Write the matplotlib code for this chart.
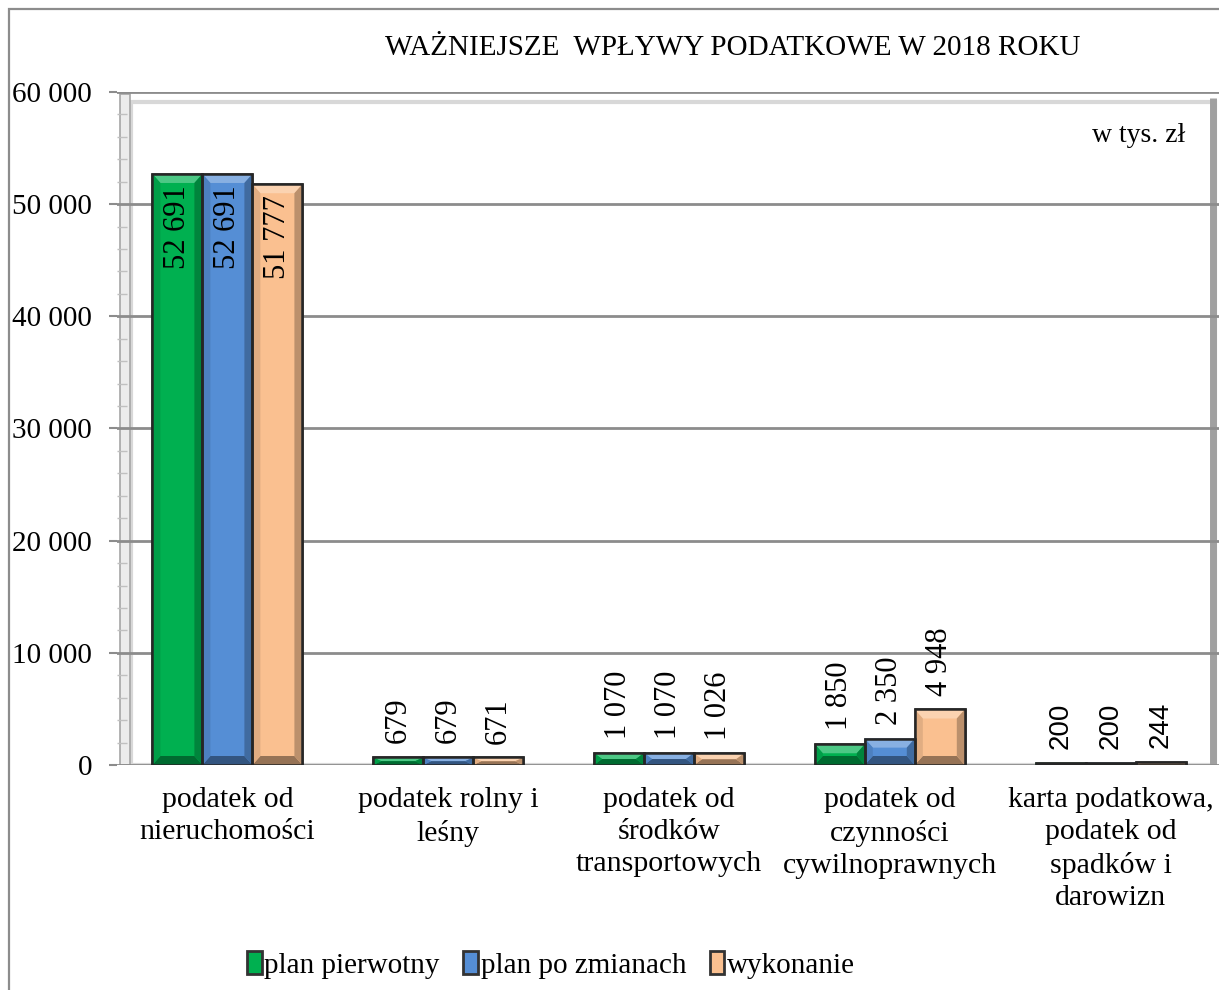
import numpy as np
import matplotlib
matplotlib.use("Agg")
import matplotlib.pyplot as plt
from matplotlib.patches import Rectangle, Polygon, Patch
from matplotlib.ticker import FuncFormatter, MultipleLocator
from matplotlib.colors import to_rgb

plt.rcParams['font.family'] = ['Liberation Serif', 'DejaVu Serif']

# data (w tys. zł)
categories = ["podatek od\nnieruchomości", "podatek rolny i\nleśny",
              "podatek od\nśrodków\ntransportowych", "podatek od\nczynności\ncywilnoprawnych",
              "karta podatkowa,\npodatek od\nspadków i\ndarowizn"]
series_names = ["plan pierwotny", "plan po zmianach", "wykonanie"]
plan_pierwotny = [52691, 679, 1070, 1850, 200]
plan_po_zmianach = [52691, 679, 1070, 2350, 200]
wykonanie = [51777, 671, 1026, 4948, 244]

colors = ["#00B050", "#558ED5", "#FAC090"]
edge = "#262626"


def fmt(v):
    return f"{v:,.0f}".replace(",", " ")


def shade(c, f):
    r = np.array(to_rgb(c))
    if f >= 1:
        return tuple(r + (1 - r) * (f - 1))
    return tuple(r * f)


fig = plt.figure(figsize=(12.19, 9.9), dpi=100)
ax = fig.add_axes([117 / 1219, 1 - 765 / 990, 1104 / 1219, 673 / 990])
ax.set_xlim(0, 5)
ax.set_ylim(0, 60000)

# pixel sizes in data units
px_x = 5 / 1104
px_y = 60000 / 673

# outer figure border
fig.patches.append(Rectangle((9 / 1219, -0.1), 1.2, 1.1 - 9 / 990, transform=fig.transFigure,
                             facecolor="none", edgecolor="#8c8c8c", lw=1.6))

# left wall and back frame
ax.add_patch(Rectangle((3 * px_x, 0), 10 * px_x, 60000 - 2 * px_y, facecolor="#ececec",
                       edgecolor="#a6a6a6", lw=1.2, zorder=0.5))
ax.add_patch(Rectangle((14 * px_x, 0), 5 - 20 * px_x, 60000 - 10 * px_y, facecolor="none",
                       edgecolor="#d8d8d8", lw=3, zorder=0.4))
ax.plot([5 - 8 * px_x] * 2, [0, 60000 - 6 * px_y], color="#a0a0a0", lw=5, zorder=0.45,
        solid_capstyle="butt")

# grid
ax.set_yticks(np.arange(0, 60001, 10000))
ax.yaxis.set_major_formatter(FuncFormatter(lambda v, p: fmt(v)))
ax.yaxis.set_minor_locator(MultipleLocator(2000))
ax.grid(axis="y", color="#8c8c8c", lw=2, zorder=1)
ax.set_axisbelow(True)
for s in ax.spines.values():
    s.set_visible(False)
ax.tick_params(axis="y", which="major", length=6, width=1.5, color="#8c8c8c",
               labelsize=21, pad=12)
ax.tick_params(axis="y", which="minor", direction="in", length=7, width=1, color="#c0c0c0")

bw = 50 * px_x
series = [plan_pierwotny, plan_po_zmianach, wykonanie]
x = np.arange(len(categories)) + 0.5
for i, (vals, c) in enumerate(zip(series, colors)):
    xs = x + (i - 1) * bw
    ax.bar(xs, vals, width=bw, color=c, edgecolor=edge, lw=1.8, zorder=3)
    for xc, v in zip(xs, vals):
        x0, x1 = xc - bw / 2, xc + bw / 2
        bx = 8 * px_x
        by = min(9 * px_y, v / 2)
        ax.add_patch(Polygon([(x0, v), (x1, v), (x1 - bx, v - by), (x0 + bx, v - by)],
                             closed=True, facecolor=shade(c, 1.3), lw=0, zorder=3.1))
        ax.add_patch(Polygon([(x0, 0), (x1, 0), (x1 - bx, by), (x0 + bx, by)],
                             closed=True, facecolor=shade(c, 0.6), lw=0, zorder=3.1))
        ax.add_patch(Polygon([(x0, 0), (x0 + bx, by), (x0 + bx, v - by), (x0, v)],
                             closed=True, facecolor=shade(c, 0.9), lw=0, zorder=3.1))
        ax.add_patch(Polygon([(x1, 0), (x1 - bx, by), (x1 - bx, v - by), (x1, v)],
                             closed=True, facecolor=shade(c, 0.75), lw=0, zorder=3.1))
        ax.add_patch(Rectangle((x0, 0), bw, v, facecolor="none", edgecolor=edge, lw=1.8, zorder=3.2))
        fam = ['Liberation Sans'] if v < 500 else ['Liberation Serif']
        if v > 20000:
            ax.annotate(fmt(v), (xc, v), xytext=(0, -8), textcoords="offset points",
                        rotation=90, ha="center", va="top", fontsize=22, family=fam, zorder=4)
        else:
            ax.annotate(fmt(v), (xc, v), xytext=(0, 10), textcoords="offset points",
                        rotation=90, ha="center", va="bottom",
                        fontsize=20 if v < 500 else 22, family=fam, zorder=4)

ax.set_xticks(x)
ax.set_xticklabels(categories, fontsize=21.5, linespacing=1.3)
ax.tick_params(axis="x", length=0, pad=16)

fig.text(733 / 1219, 1 - 48 / 990, "WAŻNIEJSZE  WPŁYWY PODATKOWE W 2018 ROKU",
         ha="center", va="center", fontsize=21)
fig.text(1185 / 1219, 1 - 135 / 990, "w tys. zł", ha="right", va="center", fontsize=20)

handles = [Patch(facecolor=c, edgecolor="#333333", lw=2) for c in colors]
fig.legend(handles, series_names, loc="center", bbox_to_anchor=(551 / 1219, 1 - 965 / 990),
           ncol=3, frameon=False, fontsize=21, handlelength=0.5, handleheight=0.8,
           handletextpad=0.1, columnspacing=0.8)

fig.savefig("out.png", dpi=100)
